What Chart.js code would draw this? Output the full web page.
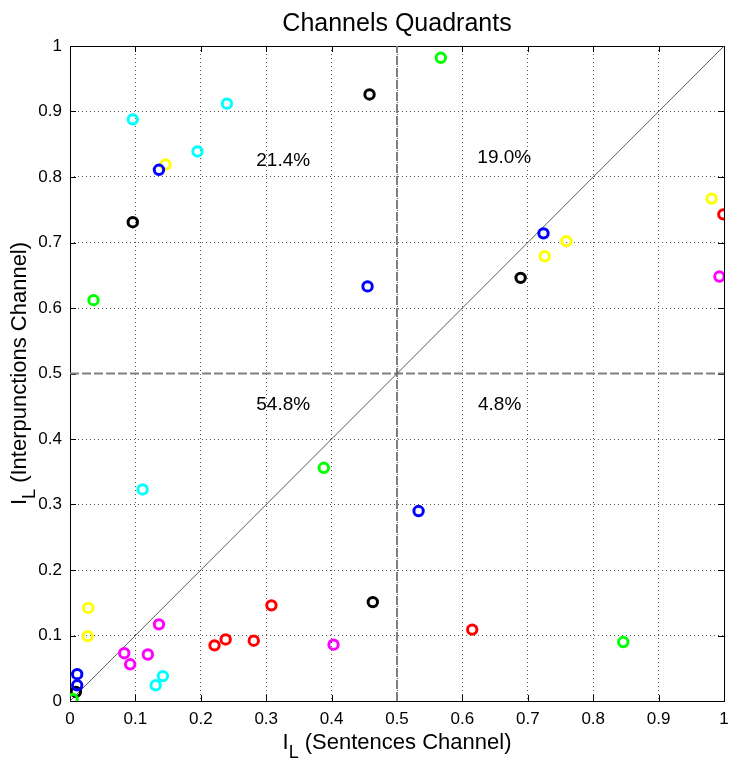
<!DOCTYPE html>
<html><head><meta charset="utf-8">
<script src="https://cdn.jsdelivr.net/npm/chart.js@4.4.0/dist/chart.umd.min.js"></script>
<style>html,body{margin:0;padding:0;background:#fff}canvas{display:block}</style>
</head><body>
<canvas id="c" width="732" height="760"></canvas>
<script>
const chartTitle = 'Channels Quadrants';
const xAxisTitle = ['I', 'L', ' (Sentences Channel)'];
const yAxisTitle = ['I', 'L', ' (Interpunctions Channel)'];
const tickLabels = ['0','0.1','0.2','0.3','0.4','0.5','0.6','0.7','0.8','0.9','1'];

const seriesNames  = ['green','blue','black','red','cyan','magenta','yellow'];
const seriesColors = ['#00ff00','#0000ff','#000000','#ff0000','#00ffff','#ff00ff','#ffff00'];

const greenX   = [0.567, 0.036, 0.388, 0.846, 0.004];
const greenY   = [0.982, 0.612, 0.356, 0.090, 0.003];
const blueX    = [0.136, 0.455, 0.724, 0.533, 0.011, 0.011];
const blueY    = [0.811, 0.633, 0.714, 0.290, 0.041, 0.024];
const blackX   = [0.458, 0.096, 0.689, 0.463, 0.009];
const blackY   = [0.926, 0.731, 0.646, 0.151, 0.014];
const redX     = [0.999, 0.221, 0.238, 0.281, 0.308, 0.615];
const redY     = [0.743, 0.085, 0.094, 0.092, 0.146, 0.109];
const cyanX    = [0.096, 0.240, 0.195, 0.111, 0.142, 0.131];
const cyanY    = [0.888, 0.912, 0.839, 0.323, 0.038, 0.024];
const magentaX = [0.993, 0.136, 0.083, 0.092, 0.119, 0.403];
const magentaY = [0.648, 0.117, 0.073, 0.056, 0.071, 0.086];
const yellowX  = [0.146, 0.981, 0.759, 0.726, 0.028, 0.027];
const yellowY  = [0.819, 0.767, 0.702, 0.679, 0.142, 0.099];

const quadrantLabels = ['21.4%', '19.0%', '54.8%', '4.8%'];
const quadrantLabelX = [0.326, 0.664, 0.326, 0.657];
const quadrantLabelY = [0.825, 0.830, 0.452, 0.452];

const diagonalX = [0, 1];
const diagonalY = [0, 1];
const splitValue = 0.5;

const seriesX = [greenX, blueX, blackX, redX, cyanX, magentaX, yellowX];
const seriesY = [greenY, blueY, blackY, redY, cyanY, magentaY, yellowY];

const toPts = (xs, ys) => xs.map((x, i) => ({x: x, y: ys[i]}));

const datasets = seriesNames.map((n, k) => ({
  label: n,
  data: toPts(seriesX[k], seriesY[k]),
  pointStyle: 'circle',
  pointRadius: 4.7,
  pointBorderWidth: 3,
  pointBorderColor: seriesColors[k],
  pointBackgroundColor: 'rgba(0,0,0,0)',
  borderColor: seriesColors[k],
  showLine: false,
  order: k
}));

datasets.push({
  label: 'diagonal',
  data: toPts(diagonalX, diagonalY),
  showLine: true, pointRadius: 0, borderColor: '#333', borderWidth: 0.8, fill: false, order: 20
});
datasets.push({
  label: 'vsplit',
  data: toPts([splitValue, splitValue], [0, 1]),
  showLine: true, pointRadius: 0, borderColor: '#808080', borderWidth: 2, borderDash: [9, 3], fill: false, order: 21
});
datasets.push({
  label: 'hsplit',
  data: toPts([0, 1], [splitValue, splitValue]),
  showLine: true, pointRadius: 0, borderColor: '#808080', borderWidth: 2, borderDash: [9, 3], fill: false, order: 22
});

const FONT = '"Liberation Sans", Arial, Helvetica, sans-serif';

function drawSubLabel(ctx, parts, size, subSize, subDrop) {
  ctx.font = size + 'px ' + FONT;
  const w0 = ctx.measureText(parts[0]).width;
  const w2 = ctx.measureText(parts[2]).width;
  ctx.font = subSize + 'px ' + FONT;
  const w1 = ctx.measureText(parts[1]).width;
  const total = w0 + w1 + w2;
  let x = -total / 2;
  ctx.textAlign = 'left';
  ctx.textBaseline = 'alphabetic';
  ctx.font = size + 'px ' + FONT;
  ctx.fillText(parts[0], x, 0); x += w0;
  ctx.font = subSize + 'px ' + FONT;
  ctx.fillText(parts[1], x, subDrop); x += w1;
  ctx.font = size + 'px ' + FONT;
  ctx.fillText(parts[2], x, 0);
}

const matlabPlugin = {
  id: 'matlab',
  beforeDraw(chart) {
    const ctx = chart.ctx;
    ctx.save();
    ctx.fillStyle = '#fff';
    ctx.fillRect(0, 0, chart.width, chart.height);
    ctx.restore();
  },
  beforeDatasetsDraw(chart) {
    const ctx = chart.ctx, a = chart.chartArea;
    const xs = chart.scales.x, ys = chart.scales.y;
    ctx.save();
    ctx.strokeStyle = '#000';
    ctx.lineWidth = 1;
    ctx.strokeRect(Math.round(a.left) + 0.5, Math.round(a.top) + 0.5,
                   Math.round(a.right - a.left), Math.round(a.bottom - a.top));
    ctx.beginPath();
    xs.ticks.forEach(t => {
      const p = Math.round(xs.getPixelForValue(t.value)) + 0.5;
      ctx.moveTo(p, a.bottom); ctx.lineTo(p, a.bottom - 6);
      ctx.moveTo(p, a.top); ctx.lineTo(p, a.top + 6);
    });
    ys.ticks.forEach(t => {
      const p = Math.round(ys.getPixelForValue(t.value)) + 0.5;
      ctx.moveTo(a.left, p); ctx.lineTo(a.left + 6, p);
      ctx.moveTo(a.right, p); ctx.lineTo(a.right - 6, p);
    });
    ctx.stroke();
    ctx.restore();
  },
  afterDatasetsDraw(chart) {
    const ctx = chart.ctx;
    const xs = chart.scales.x, ys = chart.scales.y;
    ctx.save();
    ctx.fillStyle = '#000';
    ctx.font = '19px ' + FONT;
    ctx.textAlign = 'center';
    ctx.textBaseline = 'middle';
    quadrantLabels.forEach((t, i) => {
      ctx.fillText(t, xs.getPixelForValue(quadrantLabelX[i]), ys.getPixelForValue(quadrantLabelY[i]));
    });
    ctx.restore();
  },
  afterDraw(chart) {
    const ctx = chart.ctx, a = chart.chartArea;
    const cx = (a.left + a.right) / 2, cy = (a.top + a.bottom) / 2;
    ctx.save();
    ctx.fillStyle = '#000';
    ctx.font = '25px ' + FONT;
    ctx.textAlign = 'center';
    ctx.textBaseline = 'alphabetic';
    ctx.fillText(chartTitle, cx, 31);
    ctx.restore();

    ctx.save();
    ctx.fillStyle = '#000';
    ctx.translate(cx, 749);
    drawSubLabel(ctx, xAxisTitle, 22, 18, 9);
    ctx.restore();

    ctx.save();
    ctx.fillStyle = '#000';
    ctx.translate(26, cy);
    ctx.rotate(-Math.PI / 2);
    drawSubLabel(ctx, yAxisTitle, 22, 18, 9);
    ctx.restore();
  }
};

const axisCommon = (fitFn) => ({
  type: 'linear',
  min: 0, max: 1,
  ticks: {
    stepSize: 0.1,
    autoSkip: false,
    maxRotation: 0,
    color: '#000',
    font: { family: FONT, size: 17 },
    padding: 8,
    callback: (v, i) => tickLabels[i]
  },
  grid: { color: '#555', lineWidth: 1, drawTicks: false },
  border: { display: false, dash: [1, 3] },
  afterFit: fitFn
});

new Chart(document.getElementById('c'), {
  type: 'scatter',
  data: { datasets: datasets },
  options: {
    responsive: false,
    animation: false,
    devicePixelRatio: 1,
    layout: { padding: { left: 0, right: 8, top: 46, bottom: 0 } },
    plugins: { legend: { display: false }, tooltip: { enabled: false }, title: { display: false } },
    scales: {
      x: axisCommon(s => { s.height = 59; s.paddingLeft = 0; s.paddingRight = 0; }),
      y: axisCommon(s => { s.width = 70; s.paddingTop = 0; s.paddingBottom = 0; })
    }
  },
  plugins: [matlabPlugin]
});
</script>
</body></html>
